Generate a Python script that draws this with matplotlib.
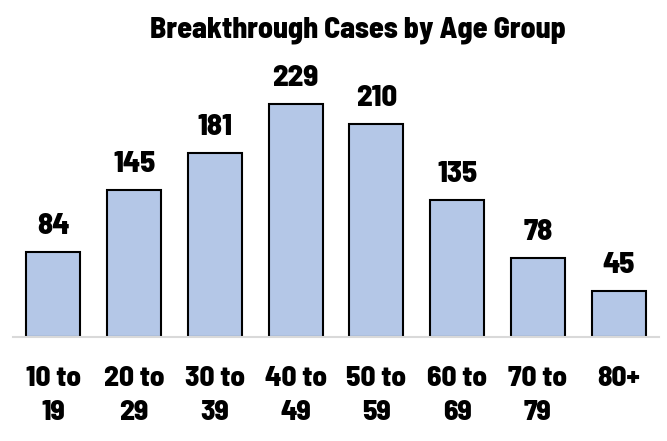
import matplotlib.pyplot as plt

ages = ['10 to\n19', '20 to\n29', '30 to\n39', '40 to\n49',
        '50 to\n59', '60 to\n69', '70 to\n79', '80+']
cases = [84, 145, 181, 229, 210, 135, 78, 45]

# narrow heavy text throughout
plt.rcParams['font.family'] = ['Barlow Semi Condensed', 'DejaVu Sans']
plt.rcParams['font.stretch'] = 'condensed'
plt.rcParams['font.weight'] = 800

fig = plt.figure(figsize=(6.67, 4.41), dpi=100)
ax = fig.add_axes([13 / 667, 104 / 441, 646 / 667, 254 / 441])

ax.bar(range(len(cases)), cases, width=0.67, color='#B4C7E7',
       edgecolor='black', linewidth=1.5, zorder=2)

for i, v in enumerate(cases):
    ax.annotate(str(v), (i, v), xytext=(0, 13), textcoords='offset points',
                ha='center', va='baseline', fontsize=22)

ax.set_xlim(-0.5, len(cases) - 0.5)
ax.set_ylim(0, 250)
ax.set_xticks(range(len(cases)))
ax.set_xticklabels(ages, fontsize=21, linespacing=1.45)
ax.tick_params(axis='x', length=0, pad=21)
ax.set_yticks([])
for s in ['top', 'right', 'left']:
    ax.spines[s].set_visible(False)
ax.spines['bottom'].set_color('#D9D9D9')
ax.spines['bottom'].set_linewidth(1.5)

fig.text(358 / 667, 1 - 30 / 441, 'Breakthrough Cases by Age Group',
         ha='center', va='center', fontsize=21.5)

fig.savefig('out.png', dpi=100)
